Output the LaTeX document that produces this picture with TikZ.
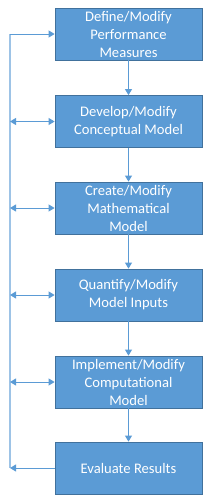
\documentclass[tikz,border=0pt]{standalone}
\usepackage{fontspec}
\setmainfont{Carlito}
\usetikzlibrary{arrows.meta}
\definecolor{boxfill}{HTML}{5B9BD5}
\definecolor{boxedge}{HTML}{41719C}
\definecolor{conn}{HTML}{5B9BD5}
\definecolor{rail}{HTML}{9DC3E6}
\begin{document}
\begin{tikzpicture}[x=1pt,y=-1pt,
  stepbox/.style={draw=boxedge,line width=0.8pt,fill=boxfill,text=white,
    minimum width=147pt,minimum height=52pt,align=center,inner sep=1pt,
    font=\fontsize{14.6}{18}\selectfont},
  flow/.style={draw=conn,line width=1pt,-{Triangle[length=6pt,width=7pt]}},
  both/.style={draw=conn,line width=1pt,{Triangle[length=6pt,width=7pt]}-{Triangle[length=6pt,width=7pt]}}]
\useasboundingbox (0,0) rectangle (212,501);
\node[stepbox] (b1) at (128.5,34) {Define/Modify\\Performance\\Measures};
\node[stepbox] (b2) at (128.5,121.5) {Develop/Modify\\Conceptual Model};
\node[stepbox] (b3) at (128.5,208) {Create/Modify\\Mathematical\\Model};
\node[stepbox] (b4) at (128.5,295) {Quantify/Modify\\Model Inputs};
\node[stepbox] (b5) at (128.5,382) {Implement/Modify\\Computational\\Model};
\node[stepbox] (b6) at (128.5,468) {Evaluate Results};
\coordinate (rtop) at (10,34);
\coordinate (r2) at (10,121.5);
\coordinate (r3) at (10,208);
\coordinate (r4) at (10,295);
\coordinate (r5) at (10,382);
\coordinate (rbot) at (10,468);
\draw[rail,line width=2pt] (rtop) -- (rbot);
\draw[flow] (b1) -- (b2);
\draw[flow] (b2) -- (b3);
\draw[flow] (b3) -- (b4);
\draw[flow] (b4) -- (b5);
\draw[flow] (b5) -- (b6);
\draw[flow] (rtop) -- (b1.west);
\draw[both] (r2) -- (b2.west);
\draw[both] (r3) -- (b3.west);
\draw[both] (r4) -- (b4.west);
\draw[both] (r5) -- (b5.west);
\draw[flow] (b6.west) -- (rbot);
\end{tikzpicture}
\end{document}
